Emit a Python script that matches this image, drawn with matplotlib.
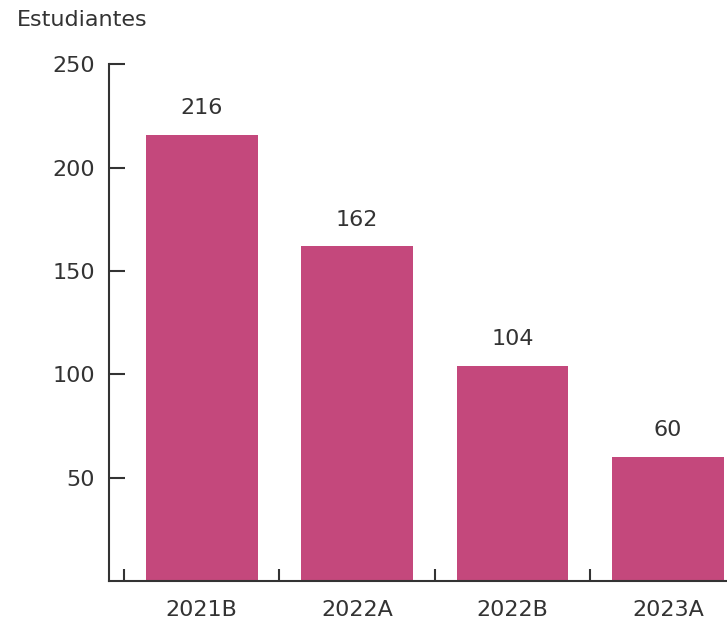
import matplotlib.pyplot as plt
import numpy as np

periodos = ['2021B', '2022A', '2022B', '2023A']
estudiantes = [216, 162, 104, 60]
y_ticks = [50, 100, 150, 200, 250]

bar_color = '#c4487c'
text_color = '#333333'
plt.rcParams['font.family'] = ['DejaVu Sans']

fig = plt.figure(figsize=(7.27, 6.24), dpi=100)
ax = fig.add_axes([109 / 727, 43 / 624, 1 - 109 / 727, (581 - 64.4) / 624])

x = np.arange(len(periodos))
bars = ax.bar(x, estudiantes, width=0.72, color=bar_color, zorder=2)

for b, v in zip(bars, estudiantes):
    ax.annotate(str(v), (b.get_x() + b.get_width() / 2, v), xytext=(0, 12),
                textcoords='offset points', ha='center', va='bottom',
                fontsize=16, color=text_color)

ax.set_xlim(-0.597, 3.38)
ax.set_ylim(0, 250)

for s in ['top', 'right']:
    ax.spines[s].set_visible(False)
for s in ['left', 'bottom']:
    ax.spines[s].set_color(text_color)
    ax.spines[s].set_linewidth(1.5)
    ax.spines[s].set_zorder(3)

ax.set_yticks(y_ticks)
ax.set_yticklabels([str(t) for t in y_ticks])
ax.tick_params(axis='y', direction='in', length=11.5, width=1.5, color=text_color,
               labelsize=16, labelcolor=text_color, pad=10)

ax.set_xticks(x)
ax.set_xticklabels(periodos)
ax.set_xticks(x - 0.5, minor=True)
ax.tick_params(axis='x', which='major', length=0, labelsize=16,
               labelcolor=text_color, pad=14)
ax.tick_params(axis='x', which='minor', direction='in', length=8.5, width=1.5,
               color=text_color)

fig.text(17 / 727, 1 - 20 / 624, 'Estudiantes', ha='left', va='center',
         fontsize=16, color=text_color)

fig.savefig('out.png', dpi=100)
